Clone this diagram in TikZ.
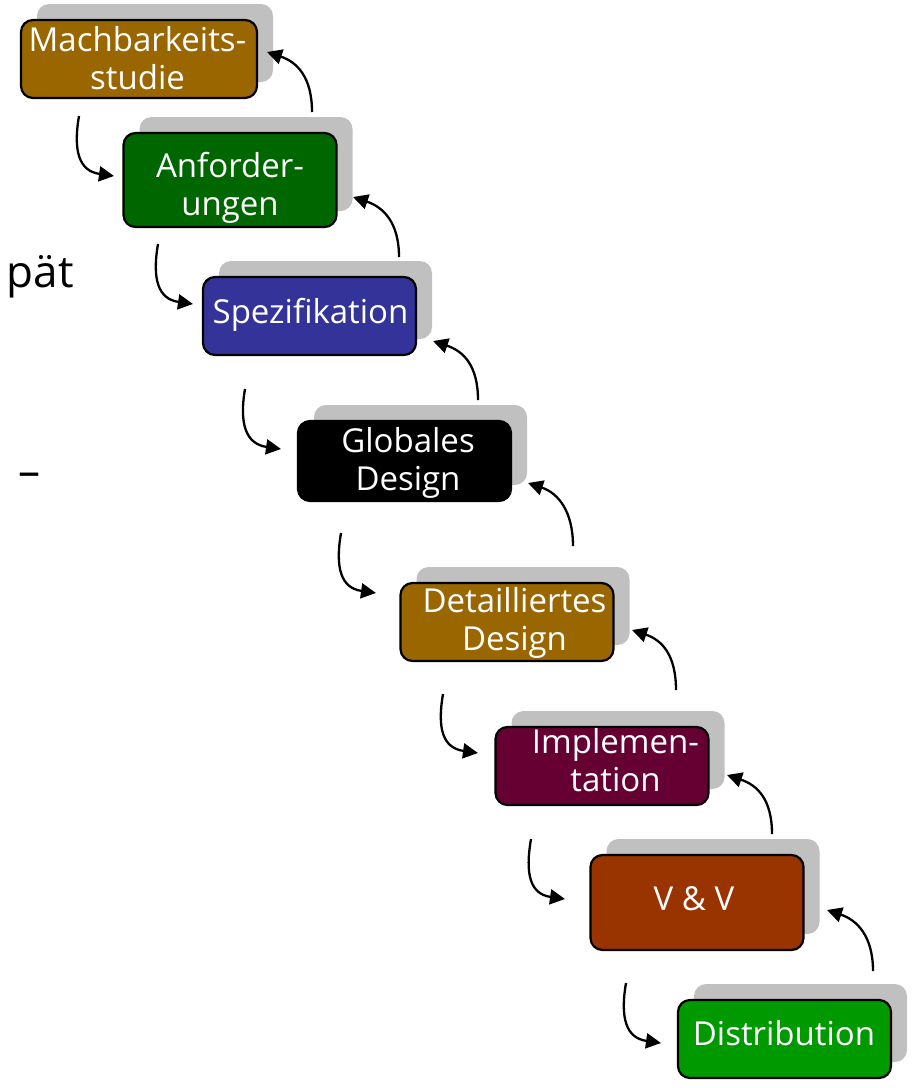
\documentclass[tikz,border=0pt]{standalone}
\usepackage{fontspec}
\setmainfont{Open Sans}
\usetikzlibrary{arrows.meta,calc,shadows}
\definecolor{cbrown}{RGB}{153,102,0}
\definecolor{cgreen}{RGB}{0,102,0}
\definecolor{cblue}{RGB}{51,51,153}
\definecolor{cmaroon}{RGB}{102,0,51}
\definecolor{crust}{RGB}{153,51,0}
\definecolor{clgreen}{RGB}{0,153,0}
\definecolor{shadowgray}{RGB}{192,192,192}
\tikzset{
  stagebox/.style={draw=black, line width=2.2pt, rounded corners=12pt, inner sep=0pt,
    minimum height=78pt, minimum width=213pt,
    general shadow={fill=shadowgray, shadow xshift=16pt, shadow yshift=16pt}},
  stagetext/.style={text=white, align=center, inner sep=0pt,
    font=\fontsize{33}{38}\selectfont},
  flow/.style={line width=2.3pt, -{Triangle[length=15pt,width=15pt]}},
  sidetext/.style={inner sep=0pt, font=\fontsize{44}{50}\selectfont}
}
\begin{document}
\begin{tikzpicture}[x=1pt,y=-1pt]
\clip (0,0) rectangle (913,1088);
% boxes
\node[stagebox, fill=cbrown, minimum width=236pt] (b1) at (139,59) {};
\node[stagebox, fill=cgreen, minimum height=94pt] (b2) at (230,180) {};
\node[stagebox, fill=cblue] (b3) at (309.5,316) {};
\node[stagebox, fill=black, minimum height=80pt] (b4) at (404.5,461) {};
\node[stagebox, fill=cbrown] (b5) at (507,622) {};
\node[stagebox, fill=cmaroon] (b6) at (602,766) {};
\node[stagebox, fill=crust, minimum height=95pt] (b7) at (697,902.5) {};
\node[stagebox, fill=clgreen] (b8) at (784.5,1039) {};
% texts
\node[stagetext] (t1) at ($(b1)+(-1.5,-0.5)$) {Machbarkeits-\\studie};
\node[stagetext] (t2) at ($(b2)+(0,7.4)$) {Anforder-\\ungen};
\node[stagetext] (t3) at ($(b3)+(1,-1.6)$) {Spezifikation};
\node[stagetext] (t4) at ($(b4)+(3.5,2.4)$) {Globales\\Design};
\node[stagetext] (t5) at ($(b5)+(7.5,1.4)$) {Detailliertes\\Design};
\node[stagetext] (t6) at ($(b6)+(13.5,-5.5)$) {Implemen-\\tation};
\node[stagetext] (t7) at ($(b7)+(-3,-4)$) {V \& V};
\node[stagetext] (t8) at ($(b8)+(-0.5,-5.5)$) {Distribution};
% side fragments
\node[sidetext, anchor=base east] (s1) at (74,287) {pät};
\node[sidetext, anchor=base] (s2) at (30,486) {–};
% down arrows
\draw[flow] ($(b1)+(-60,57)$) .. controls +(-6,35) and +(-35,-5) .. ($(b2)+(-116,-4)$);
\draw[flow] ($(b2)+(-72,64)$) .. controls +(-6,35) and +(-35,-5) .. ($(b3)+(-116.5,-12)$);
\draw[flow] ($(b3)+(-64.5,73)$) .. controls +(-6,35) and +(-35,-5) .. ($(b4)+(-123.5,-12)$);
\draw[flow] ($(b4)+(-63.5,72)$) .. controls +(-6,35) and +(-35,-5) .. ($(b5)+(-131,-29)$);
\draw[flow] ($(b5)+(-64,72)$) .. controls +(-6,35) and +(-35,-5) .. ($(b6)+(-124,-13)$);
\draw[flow] ($(b6)+(-71,73)$) .. controls +(-6,35) and +(-35,-5) .. ($(b7)+(-132,-3.5)$);
\draw[flow] ($(b7)+(-71,80.5)$) .. controls +(-6,35) and +(-35,-5) .. ($(b8)+(-123.5,4)$);
% up arrows
\draw[flow] ($(b2)+(82,-68)$) .. controls +(0,-35) and +(30,10) .. ($(b1)+(128,-7)$);
\draw[flow] ($(b3)+(89.5,-59)$) .. controls +(0,-35) and +(30,10) .. ($(b2)+(123,17)$);
\draw[flow] ($(b4)+(73.5,-61)$) .. controls +(0,-35) and +(30,10) .. ($(b3)+(123.5,25)$);
\draw[flow] ($(b5)+(66,-76)$) .. controls +(0,-35) and +(30,10) .. ($(b4)+(123.5,22)$);
\draw[flow] ($(b6)+(74,-76)$) .. controls +(0,-35) and +(30,10) .. ($(b5)+(125,8)$);
\draw[flow] ($(b7)+(75,-68.5)$) .. controls +(0,-35) and +(30,10) .. ($(b6)+(125,9)$);
\draw[flow] ($(b8)+(88.5,-68)$) .. controls +(0,-35) and +(30,10) .. ($(b7)+(130,7.5)$);
\end{tikzpicture}
\end{document}
